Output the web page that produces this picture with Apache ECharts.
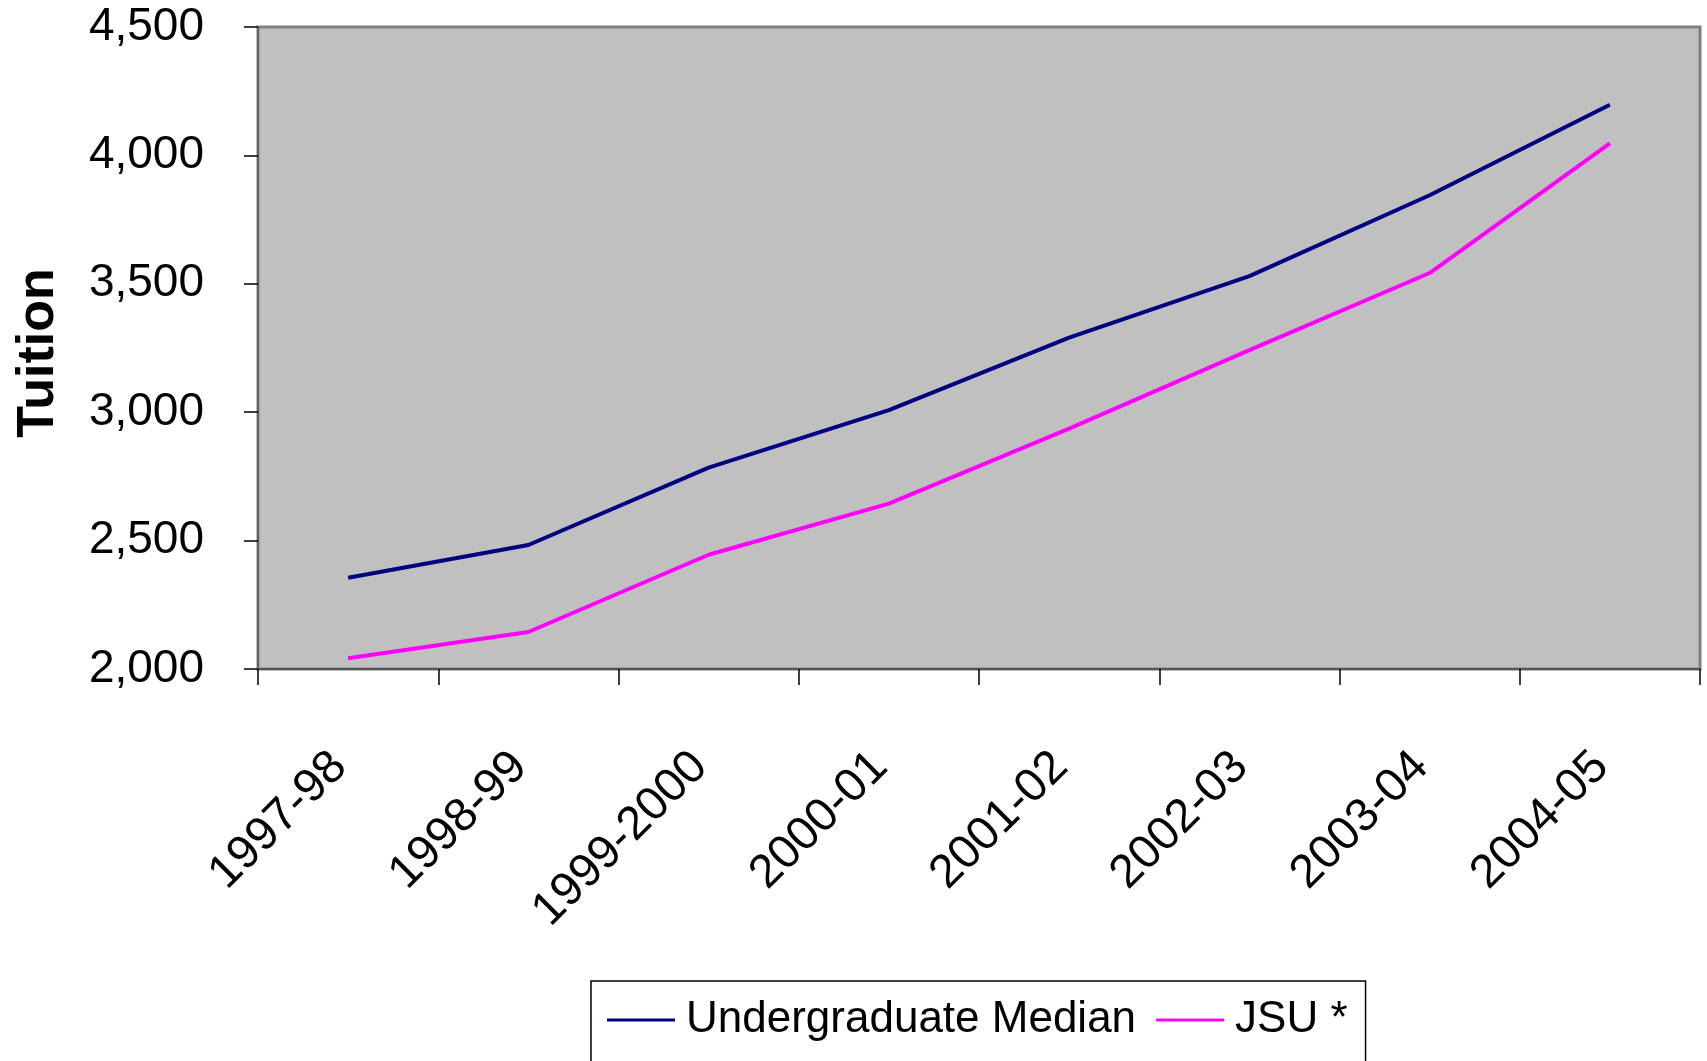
<!DOCTYPE html>
<html>
<head>
<meta charset="utf-8">
<script src="https://cdn.jsdelivr.net/npm/echarts@6/dist/echarts.min.js"></script>
<style>
html,body{margin:0;padding:0;background:#fff;}
#chart{width:1707px;height:1061px;}
</style>
</head>
<body>
<div id="chart"></div>
<script>
var categories = ['1997-98','1998-99','1999-2000','2000-01','2001-02','2002-03','2003-04','2004-05'];
var undergradMedian = [2355, 2483, 2784, 3008, 3290, 3530, 3845, 4197];
var jsu = [2042, 2144, 2445, 2644, 2936, 3242, 3542, 4047];
var seriesNames = ['Undergraduate Median', 'JSU *'];
var yAxisTitle = 'Tuition';

var font = "'Liberation Sans', Arial, sans-serif";
var chart = echarts.init(document.getElementById('chart'));
chart.setOption({
  animation: false,
  backgroundColor: '#ffffff',
  grid: {
    left: 258, right: 7, top: 27, bottom: 392,
    show: true, backgroundColor: '#C0C0C0', borderColor: '#808080', borderWidth: 3,
    outerBoundsMode: 'none', containLabel: false
  },
  legend: {
    left: 591, top: 981,
    data: seriesNames,
    icon: 'rect', itemWidth: 68, itemHeight: 3, itemGap: 20,
    padding: [17, 18, 40, 16],
    borderColor: '#000', borderWidth: 1.5, backgroundColor: '#fff',
    textStyle: { fontFamily: font, fontSize: 44, color: '#000', padding: [0, 0, 0, 6] }
  },
  xAxis: {
    type: 'category', data: categories, boundaryGap: true,
    axisLine: { show: true, lineStyle: { color: '#555555', width: 2 } },
    axisTick: { show: true, alignWithLabel: false, length: 16, lineStyle: { color: '#000', width: 1.5 } },
    axisLabel: { rotate: 45, margin: 82, fontFamily: font, fontSize: 47, color: '#000', interval: 0,
      padding: [0, 12, 0, 0] }
  },
  yAxis: {
    type: 'value', min: 2000, max: 4500, interval: 500,
    name: yAxisTitle, nameLocation: 'middle', nameGap: 193, nameRotate: 90,
    nameTextStyle: { fontFamily: font, fontWeight: 'bold', fontSize: 52, color: '#000', padding: [0, 10, 0, 0] },
    axisLine: { show: true, lineStyle: { color: '#666666', width: 2 } },
    axisTick: { show: true, length: 14, lineStyle: { color: '#000', width: 1.5 } },
    splitLine: { show: false },
    axisLabel: {
      margin: 54, fontFamily: font, fontSize: 46, color: '#000',
      formatter: function (v) { return v.toLocaleString('en-US'); }
    }
  },
  series: [
    { name: seriesNames[0], type: 'line', data: undergradMedian, showSymbol: false, symbol: 'none',
      lineStyle: { color: '#000080', width: 4 }, itemStyle: { color: '#000080' } },
    { name: seriesNames[1], type: 'line', data: jsu, showSymbol: false, symbol: 'none',
      lineStyle: { color: '#FF00FF', width: 4 }, itemStyle: { color: '#FF00FF' } }
  ]
});
</script>
</body>
</html>
